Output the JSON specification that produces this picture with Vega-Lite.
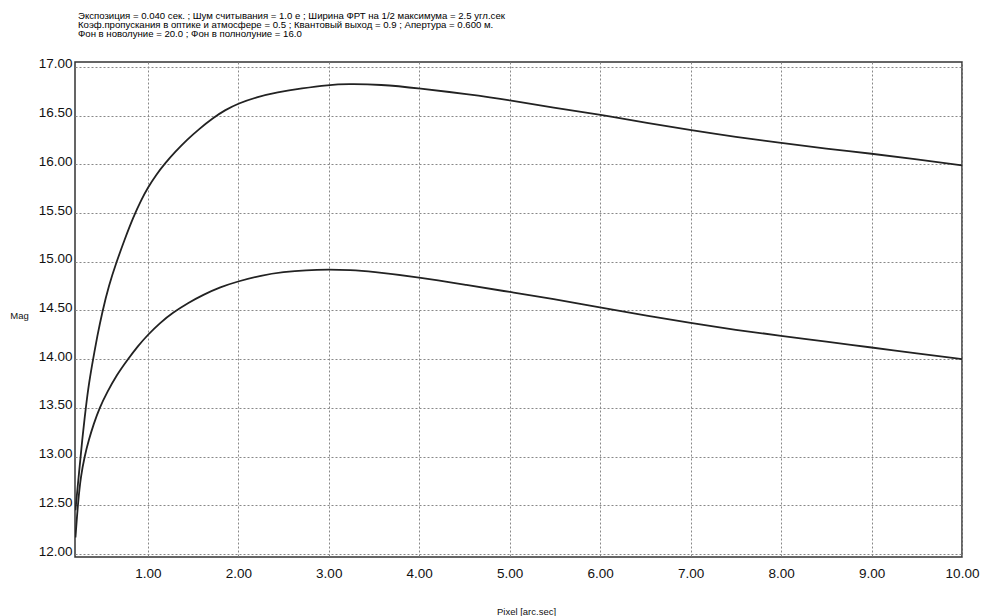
{
  "$schema": "https://vega.github.io/schema/vega-lite/v6.json",
  "width": 887,
  "height": 495,
  "autosize": "none",
  "padding": {"left": 75, "top": 62, "right": 21, "bottom": 59},
  "background": "white",
  "title": {
    "text": [
      "Экспозиция = 0.040 сек. ;  Шум считывания = 1.0 е ; Ширина ФРТ на 1/2 максимума = 2.5 угл.сек",
      "Коэф.пропускания в оптике и атмосфере = 0.5 ; Квантовый выход = 0.9 ; Апертура = 0.600 м.",
      "Фон в новолуние = 20.0 ; Фон в полнолуние = 16.0"
    ],
    "anchor": "start",
    "frame": "group",
    "orient": "top",
    "dx": 3,
    "offset": 18,
    "font": "Liberation Sans",
    "fontSize": 9.6,
    "fontWeight": "normal",
    "lineHeight": 9.3,
    "color": "#000"
  },
  "data": {
    "values": [
      {"series": "a", "x": 0.2, "y": 12.45},
      {"series": "a", "x": 0.215, "y": 12.6},
      {"series": "a", "x": 0.255, "y": 12.98},
      {"series": "a", "x": 0.28, "y": 13.22},
      {"series": "a", "x": 0.314, "y": 13.5},
      {"series": "a", "x": 0.35, "y": 13.76},
      {"series": "a", "x": 0.395, "y": 14.0},
      {"series": "a", "x": 0.44, "y": 14.23},
      {"series": "a", "x": 0.495, "y": 14.48},
      {"series": "a", "x": 0.57, "y": 14.76},
      {"series": "a", "x": 0.655, "y": 15.0},
      {"series": "a", "x": 0.74, "y": 15.22},
      {"series": "a", "x": 0.84, "y": 15.46},
      {"series": "a", "x": 0.93, "y": 15.64},
      {"series": "a", "x": 1.0, "y": 15.76},
      {"series": "a", "x": 1.09, "y": 15.89},
      {"series": "a", "x": 1.19, "y": 16.01},
      {"series": "a", "x": 1.3, "y": 16.125},
      {"series": "a", "x": 1.43, "y": 16.25},
      {"series": "a", "x": 1.57, "y": 16.365},
      {"series": "a", "x": 1.72, "y": 16.475},
      {"series": "a", "x": 1.85, "y": 16.555},
      {"series": "a", "x": 2.0, "y": 16.625},
      {"series": "a", "x": 2.2, "y": 16.69},
      {"series": "a", "x": 2.43, "y": 16.74},
      {"series": "a", "x": 2.7, "y": 16.78},
      {"series": "a", "x": 3.0, "y": 16.815},
      {"series": "a", "x": 3.2, "y": 16.825},
      {"series": "a", "x": 3.57, "y": 16.82},
      {"series": "a", "x": 4.0, "y": 16.78},
      {"series": "a", "x": 4.53, "y": 16.72},
      {"series": "a", "x": 5.0, "y": 16.66},
      {"series": "a", "x": 5.48, "y": 16.58},
      {"series": "a", "x": 6.0, "y": 16.51},
      {"series": "a", "x": 6.55, "y": 16.42},
      {"series": "a", "x": 7.0, "y": 16.35},
      {"series": "a", "x": 7.5, "y": 16.28},
      {"series": "a", "x": 8.0, "y": 16.22},
      {"series": "a", "x": 8.5, "y": 16.16},
      {"series": "a", "x": 9.0, "y": 16.11},
      {"series": "a", "x": 9.5, "y": 16.05},
      {"series": "a", "x": 10.0, "y": 15.99},
      {"series": "b", "x": 0.2, "y": 12.17},
      {"series": "b", "x": 0.23, "y": 12.55},
      {"series": "b", "x": 0.26, "y": 12.8},
      {"series": "b", "x": 0.3, "y": 13.0},
      {"series": "b", "x": 0.35, "y": 13.18},
      {"series": "b", "x": 0.4, "y": 13.33},
      {"series": "b", "x": 0.465, "y": 13.5},
      {"series": "b", "x": 0.55, "y": 13.66},
      {"series": "b", "x": 0.65, "y": 13.83},
      {"series": "b", "x": 0.78, "y": 14.0},
      {"series": "b", "x": 0.89, "y": 14.135},
      {"series": "b", "x": 1.0, "y": 14.25},
      {"series": "b", "x": 1.13, "y": 14.37},
      {"series": "b", "x": 1.28, "y": 14.48},
      {"series": "b", "x": 1.45, "y": 14.58},
      {"series": "b", "x": 1.61, "y": 14.66},
      {"series": "b", "x": 1.8, "y": 14.74},
      {"series": "b", "x": 2.0, "y": 14.8},
      {"series": "b", "x": 2.25, "y": 14.86},
      {"series": "b", "x": 2.5, "y": 14.895},
      {"series": "b", "x": 2.75, "y": 14.915},
      {"series": "b", "x": 3.0, "y": 14.92},
      {"series": "b", "x": 3.24, "y": 14.915},
      {"series": "b", "x": 3.46, "y": 14.9},
      {"series": "b", "x": 4.0, "y": 14.84},
      {"series": "b", "x": 4.53, "y": 14.76},
      {"series": "b", "x": 5.0, "y": 14.69},
      {"series": "b", "x": 5.48, "y": 14.62},
      {"series": "b", "x": 6.0, "y": 14.53},
      {"series": "b", "x": 6.5, "y": 14.45},
      {"series": "b", "x": 7.0, "y": 14.37},
      {"series": "b", "x": 7.5, "y": 14.3},
      {"series": "b", "x": 8.0, "y": 14.24},
      {"series": "b", "x": 8.5, "y": 14.18},
      {"series": "b", "x": 9.0, "y": 14.12},
      {"series": "b", "x": 9.5, "y": 14.06},
      {"series": "b", "x": 10.0, "y": 14.0}
    ]
  },
  "mark": {"type": "line", "interpolate": "basis", "color": "#222", "strokeWidth": 1.8, "clip": true},
  "encoding": {
    "x": {
      "field": "x",
      "type": "quantitative",
      "scale": {"domain": [0.195, 10], "nice": false, "zero": false},
      "axis": {
        "values": [1, 2, 3, 4, 5, 6, 7, 8, 9, 10],
        "format": ".2f",
        "title": "Pixel [arc.sec]",
        "titleX": 451,
        "titleY": 57,
        "titleAlign": "center",
        "titleBaseline": "alphabetic",
        "titleFontSize": 9.5,
        "titleFontWeight": "normal",
        "labelPadding": 9,
        "labelFlush": false
      }
    },
    "y": {
      "field": "y",
      "type": "quantitative",
      "scale": {"domain": [11.97, 17.05], "nice": false, "zero": false},
      "axis": {
        "values": [12, 12.5, 13, 13.5, 14, 14.5, 15, 15.5, 16, 16.5, 17],
        "format": ".2f",
        "title": "Mag",
        "titleAngle": 0,
        "titleX": -56,
        "titleY": 253,
        "titleAlign": "center",
        "titleBaseline": "middle",
        "titleFontSize": 9.5,
        "titleFontWeight": "normal",
        "labelPadding": 3,
        "labelBaseline": "alphabetic",
        "labelOffset": 1
      }
    },
    "detail": {"field": "series"}
  },
  "config": {
    "font": "Liberation Sans",
    "view": {"stroke": "#333", "strokeWidth": 1.5},
    "axis": {
      "grid": true,
      "gridColor": "#888",
      "gridDash": [2, 2],
      "gridWidth": 1,
      "ticks": false,
      "domain": false,
      "labelFont": "Liberation Sans",
      "labelFontSize": 13.5,
      "labelColor": "#111",
      "titleFont": "Liberation Sans",
      "titleColor": "#111"
    }
  }
}
